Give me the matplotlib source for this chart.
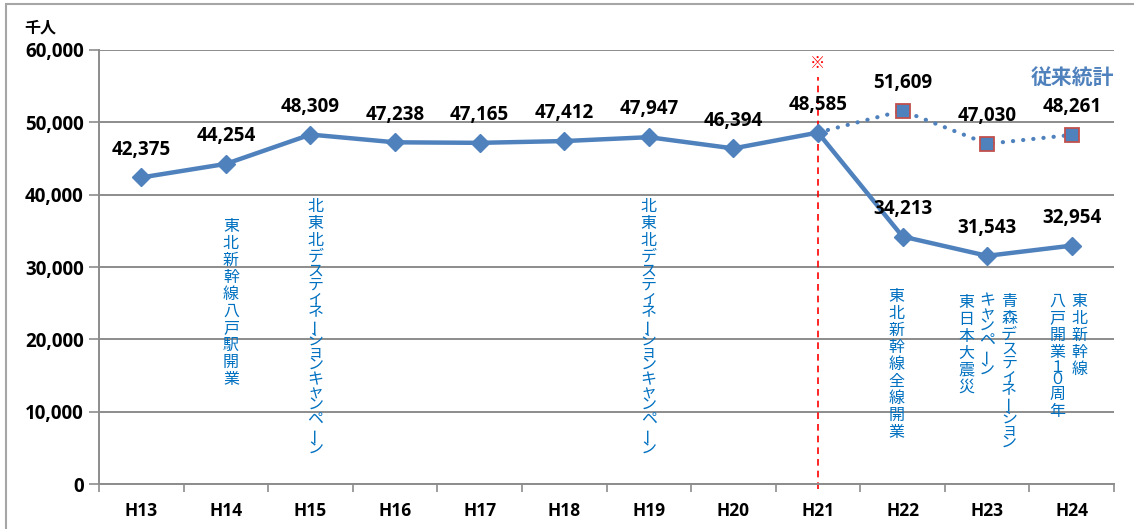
import matplotlib
matplotlib.use("Agg")
import matplotlib.pyplot as plt
from matplotlib.patches import Rectangle

plt.rcParams["font.family"] = ["Open Sans", "Noto Sans CJK JP", "DejaVu Sans"]

years = ["H13", "H14", "H15", "H16", "H17", "H18",
         "H19", "H20", "H21", "H22", "H23", "H24"]
visitors = [42375, 44254, 48309, 47238, 47165, 47412,
            47947, 46394, 48585, 34213, 31543, 32954]
# old statistics method, continued from H21
old_years = ["H21", "H22", "H23", "H24"]
old_visitors = [48585, 51609, 47030, 48261]

# vertical event notes, one entry per column
note_texts = ["東北新幹線八戸駅開業",
              "北東北デスティネーションキャンペーン",
              "北東北デスティネーションキャンペーン",
              "東北新幹線全線開業",
              "青森デスティネーション", "キャンペーン", "東日本大震災",
              "東北新幹線", "八戸開業１０周年"]
# x in category units, top in data units
note_x = [1.06, 2.06, 6.00, 8.93, 10.26, 10.00, 9.75, 11.09, 10.83]
note_top = [36800, 39500, 39500, 27100, 26400, 26300, 26300, 26400, 26400]

BLUE = "#4F81BD"
NOTE = "#0070C0"
GRID = "#8C8C8C"
SMALL_KANA = set("ァィゥェォャュョッ")


def char_pitch(ch):
    # proportional vertical advance (px), like Excel's vertical text
    if ch in SMALL_KANA:
        return 11.0
    if "\u3040" <= ch <= "\u30ff":
        return 14.5
    if "\uff10" <= ch <= "\uff19":
        return 12.5
    return 17.0


def vertical_text(ax, x, y_top, text, size=11.5):
    # stack characters top to bottom, long vowel mark turned upright
    offset = 0.0
    for ch in text:
        pitch = char_pitch(ch)
        ax.annotate(ch, (x, y_top), xytext=(0, -(offset + pitch / 2) * 0.72),
                    textcoords="offset points", ha="center", va="center",
                    fontsize=size, color=NOTE,
                    rotation=90 if ch == "ー" else 0,
                    family=["Noto Sans CJK JP"], annotation_clip=False,
                    zorder=2)
        offset += pitch


fig = plt.figure(figsize=(11.34, 5.29), dpi=100)
ax = fig.add_axes([99 / 1134, 45 / 529, 1015 / 1134, 434 / 529])

xs = list(range(len(years)))
old_xs = [years.index(y) for y in old_years]

ax.plot(old_xs, old_visitors, color=BLUE, lw=3, ls=(0, (0.05, 2.4)),
        dash_capstyle="round", zorder=3)
ax.plot(old_xs[1:], old_visitors[1:], ls="none", marker="s", ms=10,
        mfc=BLUE, mec="#C0504D", mew=1.3, zorder=4)
ax.plot(xs, visitors, color=BLUE, lw=3.2, marker="D", ms=9,
        mfc=BLUE, mec=BLUE, zorder=5)

label_kw = dict(textcoords="offset points", ha="center", va="center",
                fontsize=13.5, fontweight="bold", color="black", zorder=6)
for x, v in zip(xs, visitors):
    ax.annotate(f"{v:,}", (x, v), xytext=(0, 20), **label_kw)
for x, v in zip(old_xs[1:], old_visitors[1:]):
    ax.annotate(f"{v:,}", (x, v), xytext=(0, 20), **label_kw)

for x, top, text in zip(note_x, note_top, note_texts):
    vertical_text(ax, x, top, text)

# boundary between statistics methods
ax.plot([8, 8], [-700, 56200], color="#FF0000", lw=1.2, ls=(0, (4, 3)),
        clip_on=False, zorder=2)
ax.text(8, 58200, "※", ha="center", va="center", fontsize=11,
        color="#FF0000", family=["Noto Sans CJK JP"])
ax.text(1.0, 0.938, "従来統計", transform=ax.transAxes, ha="right",
        va="center", fontsize=15, fontweight="bold", color=BLUE,
        family=["Noto Sans CJK JP"])

ax.set_xlim(-0.5, len(years) - 0.5)
ax.set_ylim(0, 60000)
ax.set_yticks(range(0, 60001, 10000))
ax.set_yticklabels([f"{v:,}" for v in range(0, 60001, 10000)],
                   fontsize=13.5, fontweight="bold")
ax.set_xticks(xs)
ax.set_xticklabels(years, fontsize=12.5, fontweight="bold")
ax.set_xticks([i - 0.5 for i in range(len(years) + 1)], minor=True)
ax.tick_params(axis="x", which="major", length=0, pad=13)
ax.tick_params(axis="x", which="minor", length=6, width=1.2,
               color=GRID, direction="out")
ax.tick_params(axis="y", length=7, width=1.2, color=GRID, pad=4)
ax.grid(axis="y", color=GRID, lw=1.4)
ax.set_axisbelow(True)
for side in ("top", "right"):
    ax.spines[side].set_visible(False)
for side in ("left", "bottom"):
    ax.spines[side].set_color(GRID)
    ax.spines[side].set_linewidth(1.4)

fig.text(40 / 1134, 1 - 28 / 529, "千人", ha="center", va="center",
         fontsize=11.5, fontweight="bold", family=["Noto Sans CJK JP"])

# chart area border
fig.patches.append(Rectangle((6 / 1134, -0.1), 1.2, 1 - 4 / 529 + 0.1,
                             transform=fig.transFigure, fill=False,
                             ec="#A6A6A6", lw=1.5))

fig.savefig("out.png", dpi=100)
